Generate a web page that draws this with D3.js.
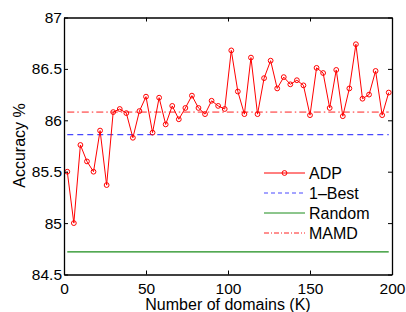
<!DOCTYPE html>
<head>
<meta charset="utf-8">
<script src="https://d3js.org/d3.v7.min.js"></script>
<style>
  body { margin: 0; background: #fff; }
  text { font-family: "Liberation Sans", Arial, sans-serif; fill: #000; }
</style>
</head>
<body>
<div id="chart"></div>
<script>
  // number of domains K
  var domains = d3.range(2, 200, 4);
  // ADP accuracy
  var adp = [85.50, 85.00, 85.76, 85.60, 85.50, 85.90, 85.37, 86.08, 86.11, 86.07,
             85.83, 86.09, 86.23, 85.88, 86.22, 85.96, 86.14, 86.01, 86.12, 86.24,
             86.12, 86.06, 86.19, 86.14, 86.11, 86.68, 86.28, 86.06, 86.61, 86.06,
             86.41, 86.58, 86.31, 86.42, 86.35, 86.39, 86.34, 86.05, 86.51, 86.46,
             86.12, 86.49, 86.04, 86.31, 86.74, 86.21, 86.25, 86.48, 86.05, 86.27];
  var oneBest = 85.86;
  var random = 84.72;
  var mamd = 86.08;
  var xTicks = [0, 50, 100, 150, 200];
  var yTicks = [84.5, 85, 85.5, 86, 86.5, 87];

  var width = 406, height = 312;
  var margin = {left: 64, right: 14, top: 17.5, bottom: 37.5};

  var svg = d3.select('#chart').append('svg')
    .attr('width', width).attr('height', height);

  var x = d3.scaleLinear().domain([0, 200]).range([margin.left, width - margin.right]);
  var y = d3.scaleLinear().domain([84.5, 87]).range([height - margin.bottom, margin.top]);

  // reference lines
  var hline = function(v, color, dash, w) {
    svg.append('line')
      .attr('x1', x(domains[0])).attr('x2', x(domains[domains.length - 1]))
      .attr('y1', y(v)).attr('y2', y(v))
      .attr('stroke', color).attr('stroke-width', w)
      .attr('stroke-dasharray', dash);
  };
  hline(random, '#1a8c1a', null, 1.2);
  hline(oneBest, '#4848ff', '6,4', 1.3);
  hline(mamd, '#ff2020', '7,3,1.5,3', 1);

  // ADP line + markers
  var pts = domains.map((k, i) => [k, adp[i]]);
  svg.append('path')
    .datum(pts)
    .attr('fill', 'none').attr('stroke', '#ff0000').attr('stroke-width', 1)
    .attr('d', d3.line().x(d => x(d[0])).y(d => y(d[1])));
  svg.append('g').selectAll('circle')
    .data(pts).join('circle')
    .attr('cx', d => x(d[0])).attr('cy', d => y(d[1])).attr('r', 2.4)
    .attr('fill', 'none').attr('stroke', '#ff0000').attr('stroke-width', 1);

  // axes, matlab-style box with inner ticks
  var fmt = d => String(d);
  svg.append('g').attr('transform', 'translate(0,' + y(84.5) + ')')
    .call(d3.axisBottom(x).tickValues(xTicks).tickSizeInner(-4).tickSizeOuter(0).tickPadding(8).tickFormat(fmt));
  svg.append('g').attr('transform', 'translate(0,' + y(87) + ')')
    .call(d3.axisTop(x).tickValues(xTicks).tickSizeInner(-4).tickSizeOuter(0).tickFormat(''));
  svg.append('g').attr('transform', 'translate(' + x(0) + ',0)')
    .call(d3.axisLeft(y).tickValues(yTicks).tickSizeInner(-4).tickSizeOuter(0).tickPadding(2).tickFormat(fmt));
  svg.append('g').attr('transform', 'translate(' + x(200) + ',0)')
    .call(d3.axisRight(y).tickValues(yTicks).tickSizeInner(-4).tickSizeOuter(0).tickFormat(''));
  svg.selectAll('.domain').attr('stroke', '#000').attr('stroke-width', 1.3);
  svg.selectAll('.tick line').attr('stroke', '#000');
  svg.selectAll('.tick text').style('font-size', '15.5px').attr('fill', '#000');

  // axis titles
  svg.append('text')
    .attr('x', (x(0) + x(200)) / 2).attr('y', 310)
    .attr('text-anchor', 'middle').style('font-size', '16px')
    .text('Number of domains (K)');
  svg.append('text')
    .attr('transform', 'translate(24.5,' + 145.5 + ') rotate(-90)')
    .attr('text-anchor', 'middle').style('font-size', '16px')
    .text('Accuracy %');

  // legend
  var legendItems = [
    {label: 'ADP', color: '#ff0000', dash: null, marker: true},
    {label: '1\u2013Best', color: '#4848ff', dash: '4,3'},
    {label: 'Random', color: '#1a8c1a', dash: null},
    {label: 'MAMD', color: '#ff2020', dash: '5,2,1,2'}
  ];
  var lg = svg.append('g');
  legendItems.forEach(function(d, i) {
    var ly = 173 + i * 20;
    lg.append('line').attr('x1', 264).attr('x2', 305).attr('y1', ly).attr('y2', ly)
      .attr('stroke', d.color).attr('stroke-width', 1).attr('stroke-dasharray', d.dash);
    if (d.marker) {
      lg.append('circle').attr('cx', 284.5).attr('cy', ly).attr('r', 2.4)
        .attr('fill', 'none').attr('stroke', d.color);
    }
    lg.append('text').attr('x', 309).attr('y', ly + 6).style('font-size', '16px').text(d.label);
  });
</script>
</body>
